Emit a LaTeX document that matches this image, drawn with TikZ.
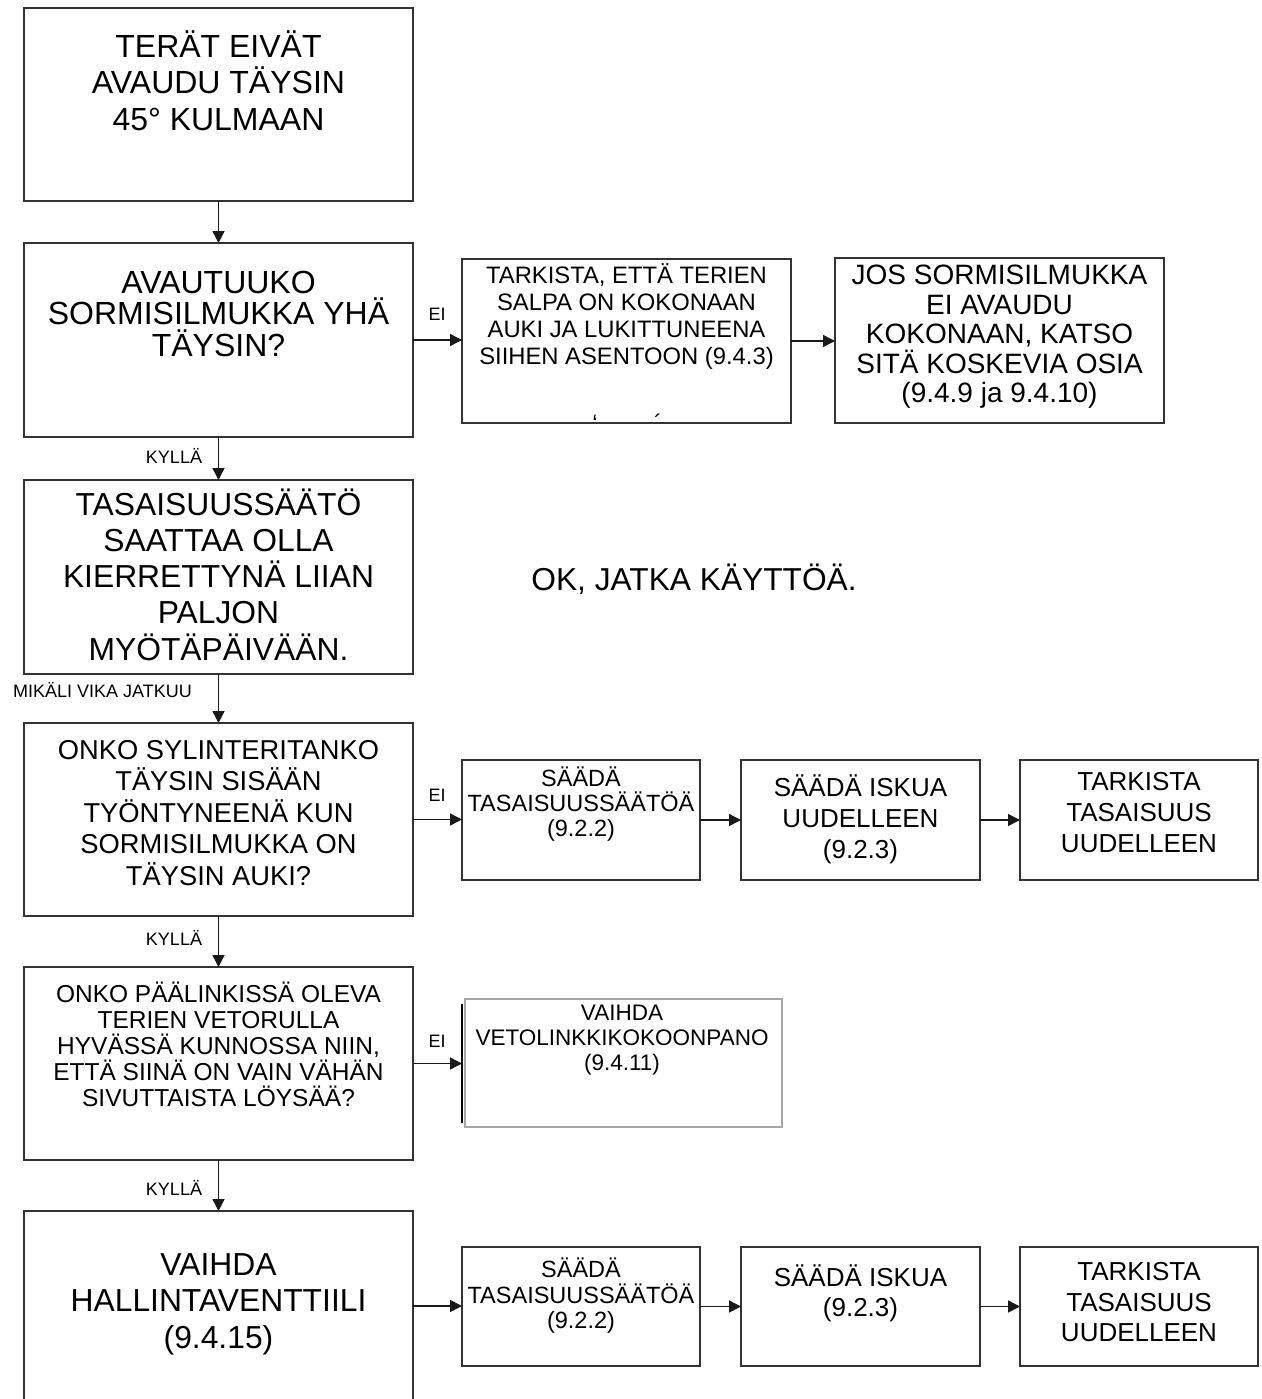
\documentclass[tikz,border=0pt]{standalone}
\usepackage{fontspec}
\setmainfont{Liberation Sans}
\usetikzlibrary{arrows.meta}
\definecolor{edge}{HTML}{333333}
\definecolor{paleedge}{HTML}{A6A6A6}
\begin{document}
\begin{tikzpicture}[x=1pt,y=-1pt,
  box/.style 2 args={draw=edge, line width=1.5pt, minimum width=#1, minimum height=#2, inner sep=0pt, outer sep=0pt},
  txt/.style 2 args={font=\fontsize{#1}{#2}\selectfont, align=center, inner sep=0pt},
  lbl/.style={font=\fontsize{18}{20}\selectfont, inner sep=0pt},
  conn/.style={draw=black!90, line width=1.4pt, -{Triangle[length=12pt,width=12pt]}}]
\useasboundingbox[fill=white] (0,0) rectangle (1261,1399);

% main column
\node[box={389pt}{193pt}] (A) at (218.5,104.5) {};
\node[box={389pt}{194pt}] (B) at (218.5,340) {};
\node[box={389pt}{194pt}] (E) at (218.5,577) {};
\node[box={389pt}{193pt}] (F) at (218.5,819.5) {};
\node[box={389pt}{193pt}] (J) at (218.5,1063.5) {};
\node[box={389pt}{190pt}] (L) at (218.5,1306) {};

% side boxes
\node[box={329pt}{164pt}] (C) at (626.5,341) {};
\node[box={329pt}{165pt}] (D) at (999.5,340.5) {};
\node[box={238pt}{120pt}] (G) at (581,820) {};
\node[box={239pt}{120pt}] (H) at (860.5,820) {};
\node[box={238pt}{120pt}] (I) at (1139,820) {};
\node[box={317pt}{128pt}, draw=paleedge] (K) at (623.5,1063) {};
\node[box={238pt}{119pt}] (M) at (581,1306.5) {};
\node[box={239pt}{119pt}] (N) at (860.5,1306.5) {};
\node[box={238pt}{119pt}] (O) at (1139,1306.5) {};

% dark stroke beside the pale box
\coordinate (Ktop) at ([xshift=-3pt,yshift=-5pt]K.north west);
\coordinate (Kbot) at ([xshift=-3pt,yshift=4pt]K.south west);
\coordinate (Kin) at ([xshift=-3pt]K.west);
\draw[black, line width=1.5pt] (Ktop) -- (Kbot);

% texts
\node[txt={32}{36.5}] (At) at (218.5,80.5) {TERÄT EIVÄT\\AVAUDU TÄYSIN\\45° KULMAAN};
\node[txt={32}{31.5}] (Bt) at (218.5,313.5) {AVAUTUUKO\\SORMISILMUKKA YHÄ\\TÄYSIN?};
\node[txt={23.8}{27}] (Ct) at (626.5,317) {TARKISTA, ETTÄ TERIEN\\SALPA ON KOKONAAN\\AUKI JA LUKITTUNEENA\\SIIHEN ASENTOON (9.4.3)};
\node[txt={23.8}{24}] (Cm1) at (595,423) {`};
\node[txt={23.8}{24}] (Cm2) at (658,423) {´};
\node[txt={28}{29.5}] (Dt) at (999.5,337) {JOS SORMISILMUKKA\\EI AVAUDU\\KOKONAAN, KATSO\\SITÄ KOSKEVIA OSIA\\(9.4.9 ja 9.4.10)};
\node[txt={31.8}{36.2}] (Et) at (218.5,574.6) {TASAISUUSSÄÄTÖ\\SAATTAA OLLA\\KIERRETTYNÄ LIIAN\\PALJON\\MYÖTÄPÄIVÄÄN.};
\node[txt={31.7}{36}] (OK) at (694,579) {OK, JATKA KÄYTTÖÄ.};
\node[txt={27.3}{31.5}] (Ft) at (218.5,813) {ONKO SYLINTERITANKO\\TÄYSIN SISÄÄN\\TYÖNTYNEENÄ KUN\\SORMISILMUKKA ON\\TÄYSIN AUKI?};
\node[txt={23.5}{25}] (Gt) at (581,804) {SÄÄDÄ\\TASAISUUSSÄÄTÖÄ\\(9.2.2)};
\node[txt={26}{31}] (Ht) at (860.5,819) {SÄÄDÄ ISKUA\\UUDELLEEN\\(9.2.3)};
\node[txt={26}{31}] (It) at (1139,813) {TARKISTA\\TASAISUUS\\UUDELLEEN};
\node[txt={24.5}{26}] (Jt) at (218.5,1044) {ONKO PÄÄLINKISSÄ OLEVA\\TERIEN VETORULLA\\HYVÄSSÄ KUNNOSSA NIIN,\\ETTÄ SIINÄ ON VAIN VÄHÄN\\SIVUTTAISTA LÖYSÄÄ?};
\node[txt={22.5}{25}] (Kt) at (622,1040) {VAIHDA\\VETOLINKKIKOKOONPANO\\(9.4.11)};
\node[txt={31.8}{36.5}] (Lt) at (218.5,1304) {VAIHDA\\HALLINTAVENTTIILI\\(9.4.15)};
\node[txt={23.5}{25.5}] (Mt) at (581,1296) {SÄÄDÄ\\TASAISUUSSÄÄTÖÄ\\(9.2.2)};
\node[txt={26}{30}] (Nt) at (860.5,1293) {SÄÄDÄ ISKUA\\(9.2.3)};
\node[txt={26}{30.5}] (Ot) at (1139,1302.5) {TARKISTA\\TASAISUUS\\UUDELLEEN};

% connector labels
\node[lbl] (ei1) at (437,314) {EI};
\node[lbl] (ei2) at (437,795) {EI};
\node[lbl] (ei3) at (437,1041) {EI};
\node[lbl] (yes1) at (174,455.5) {KYLLÄ};
\node[lbl] (yes2) at (174,937.5) {KYLLÄ};
\node[lbl] (yes3) at (174,1187.5) {KYLLÄ};
\node[lbl] (cont) at (102.5,690) {MIKÄLI VIKA JATKUU};

% connectors
\draw[conn] (A) -- (B);
\draw[conn] (B) -- (E);
\draw[conn] (E) -- (F);
\draw[conn] (F) -- (J);
\draw[conn] (J) -- (L);
\draw[conn] (B.east) -- (B.east -| C.west);
\draw[conn] (C.east) -- (C.east -| D.west);
\draw[conn] (F.east) -- (F.east -| G.west);
\draw[conn] (G.east) -- (G.east -| H.west);
\draw[conn] (H.east) -- (H.east -| I.west);
\draw[conn] (J.east) -- (J.east -| Kin);
\draw[conn] (L.east) -- (L.east -| M.west);
\draw[conn] (M.east) -- (M.east -| N.west);
\draw[conn] (N.east) -- (N.east -| O.west);
\end{tikzpicture}
\end{document}
